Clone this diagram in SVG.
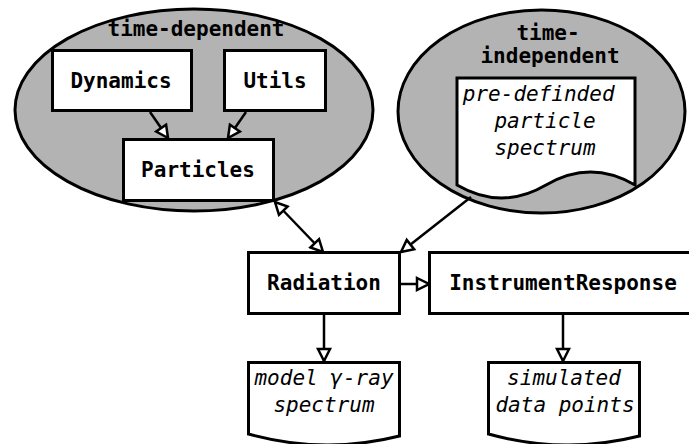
<svg xmlns="http://www.w3.org/2000/svg" width="689" height="444" viewBox="0 0 689 444">
<style>
.grp{fill:#b3b3b3;stroke:#000;stroke-width:3}
.box{fill:#fff;stroke:#000;stroke-width:3}
.b{font-family:"DejaVu Sans Mono","Liberation Mono",monospace;font-weight:bold;font-size:21px;text-anchor:middle;fill:#000}
.i{font-family:"DejaVu Sans Mono","Liberation Mono",monospace;font-style:italic;font-size:21px;text-anchor:middle;fill:#000}
.c{fill:none;stroke:#000;stroke-width:2.5}
</style>
<defs>
<marker id="a" viewBox="0 0 16 16" refX="14" refY="8" markerWidth="16" markerHeight="16" markerUnits="userSpaceOnUse" orient="auto-start-reverse">
<path d="M2,2 L14,8 L2,14 Z" fill="#fff" stroke="#000" stroke-width="2.5" stroke-linejoin="miter"/>
</marker>
</defs>
<g id="time-dependent">
<ellipse class="grp" cx="194" cy="110" rx="179" ry="101"/>
<text class="b" x="196" y="36">time-dependent</text>
</g>
<g id="time-independent">
<ellipse class="grp" cx="541.5" cy="111.5" rx="143.5" ry="101.5"/>
<text class="b" x="548" y="40">time-</text>
<text class="b" x="550" y="63">independent</text>
</g>
<g id="dynamics">
<rect class="box" x="52.5" y="50.5" width="139" height="60"/>
<text class="b" x="121" y="88">Dynamics</text>
</g>
<g id="utils">
<rect class="box" x="224.5" y="50.5" width="101" height="60"/>
<text class="b" x="275" y="88">Utils</text>
</g>
<g id="particles">
<rect class="box" x="123.5" y="139.5" width="150" height="61"/>
<text class="b" x="198" y="177">Particles</text>
</g>
<g id="predefined">
<path class="box" d="M457,78 H635 V185 Q590.5,159 546,185 Q501.5,211 457,185 Z"/>
<text class="i" x="545" y="101" xml:space="preserve">pre-definded </text>
<text class="i" x="545" y="128">particle</text>
<text class="i" x="545" y="155">spectrum</text>
</g>
<g id="radiation">
<rect class="box" x="248.5" y="252.5" width="151" height="61"/>
<text class="b" x="324" y="290">Radiation</text>
</g>
<g id="instrumentresponse">
<rect class="box" x="429.5" y="252.5" width="268" height="61"/>
<text class="b" x="563" y="290">InstrumentResponse</text>
</g>
<g id="model">
<path class="box" d="M248.5,362.5 H399.5 V436 Q324,455 248.5,434 Z"/>
<text class="i" x="324" y="385">model γ-ray</text>
<text class="i" x="324" y="412">spectrum</text>
</g>
<g id="simulated">
<path class="box" d="M488.5,362.5 H639.5 V436 Q564,455 488.5,434 Z"/>
<text class="i" x="564" y="385">simulated</text>
<text class="i" x="565" y="412">data points</text>
</g>
<g id="connectors">
<path class="c" d="M150,112 L168,138" marker-end="url(#a)"/>
<path class="c" d="M246,112 L228,138" marker-end="url(#a)"/>
<path class="c" d="M275,202 L323,252" marker-start="url(#a)" marker-end="url(#a)"/>
<path class="c" d="M471,197 L401,252" marker-end="url(#a)"/>
<path class="c" d="M400,284 L429,284" marker-end="url(#a)"/>
<path class="c" d="M324,314 L324,361" marker-end="url(#a)"/>
<path class="c" d="M563,314 L563,361" marker-end="url(#a)"/>
</g>
</svg>
